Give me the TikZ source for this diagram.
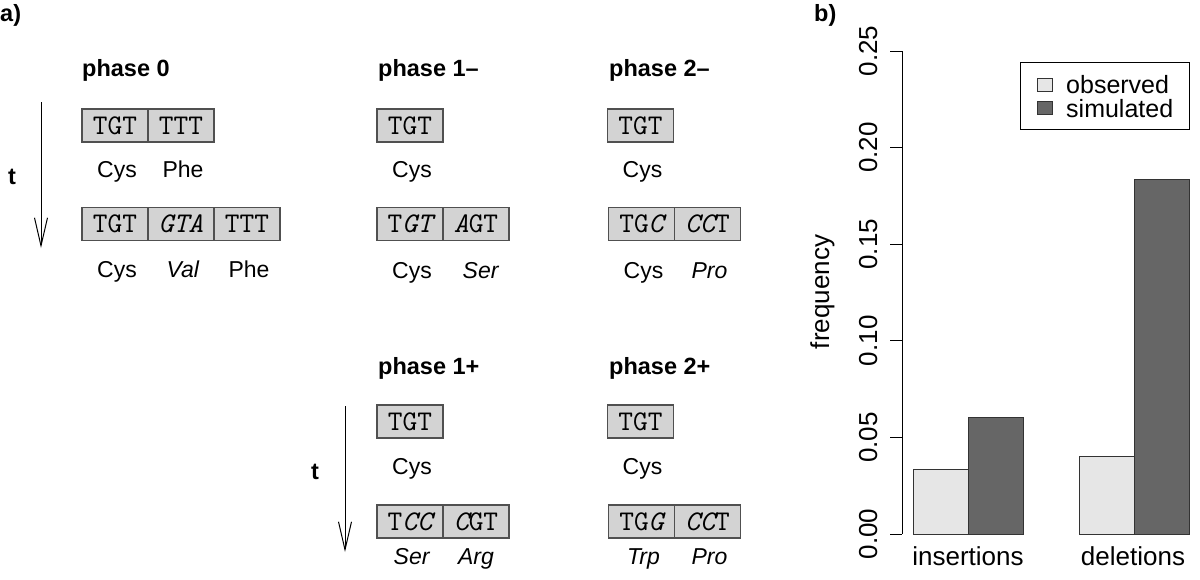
\documentclass[tikz,border=0pt]{standalone}
\usepackage{fontspec}
\setmainfont{Liberation Sans}
\usepackage{tikz}
\usetikzlibrary{positioning}
\usetikzlibrary{arrows.meta}
\definecolor{cellgray}{HTML}{D3D3D3}
\definecolor{edgegray}{HTML}{505050}
\definecolor{obsgray}{HTML}{E6E6E6}
\definecolor{simgray}{HTML}{666666}
\tikzstyle{cell} = [rectangle, draw=edgegray, line width=1.1pt, fill=cellgray,
minimum width=66pt, minimum height=33pt, inner sep=0pt, outer sep=0pt, font=\fontsize{28.5}{30}\selectfont\ttfamily]
\tikzstyle{aa} = [inner sep=0pt, text height=16.5pt, text depth=5pt, font=\fontsize{23}{27}\selectfont]
\tikzstyle{phase} = [inner sep=0pt, font=\fontsize{23.5}{28}\selectfont\bfseries]
\tikzstyle{tline} = [draw, line width=1pt, -{Straight Barb[length=28pt,width=13pt]}]
\tikzstyle{axlab} = [inner sep=0pt, font=\fontsize{26}{30}\selectfont]
\tikzstyle{legtext} = [inner sep=0pt, anchor=base west, text height=17pt, text depth=0pt, font=\fontsize{25}{28}\selectfont]
\tikzstyle{barbox} = [draw=black!80, line width=1pt]
\newcommand{\mut}[1]{{\itshape #1}}

\begin{document}
\begin{tikzpicture}[x=1pt, y=-1pt]
\useasboundingbox (0,0) rectangle (1200,579);
    % panel a
\node [phase, anchor=north west] (pa) at (0,4) {a)};
\node [phase, anchor=base west] (ph0) at (82,76) {phase 0};
\node [phase, anchor=base west] (ph1m) at (378,76) {phase 1–};
\node [phase, anchor=base west] (ph2m) at (609,76) {phase 2–};
\node [phase, anchor=base west] (ph1p) at (378,374) {phase 1+};
\node [phase, anchor=base west] (ph2p) at (609,374) {phase 2+};

% phase 0
\node [cell] (c0a) at (115,125.5) {TGT};
\node [cell, right=0pt of c0a] (c0b) {TTT};
\node [aa, below=19pt of c0a, xshift=2pt] (l0a) {Cys};
\node [aa, below=19pt of c0b, xshift=2pt] (l0b) {Phe};
\node [cell] (d0a) at (115,224) {TGT};
\node [cell, right=0pt of d0a] (d0b) {\mut{GTA}};
\node [cell, right=0pt of d0b] (d0c) {TTT};
\node [aa, below=20pt of d0a, xshift=2pt] (m0a) {Cys};
\node [aa, below=20pt of d0b, xshift=2pt] (m0b) {\textit{Val}};
\node [aa, below=20pt of d0c, xshift=2pt] (m0c) {Phe};

% phase 1-
\node [cell] (c1a) at (410,125.5) {TGT};
\node [aa, below=19pt of c1a, xshift=2pt] (l1a) {Cys};
\node [cell] (d1a) at (410,224) {T\mut{GT}};
\node [cell, right=0pt of d1a] (d1b) {\mut{A}GT};
\node [aa, below=21pt of d1a, xshift=2pt] (m1a) {Cys};
\node [aa, below=21pt of d1b, xshift=5pt] (m1b) {\textit{Ser}};

% phase 2-
\node [cell] (c2a) at (640.5,125.5) {TGT};
\node [aa, below=19pt of c2a, xshift=2pt] (l2a) {Cys};
\node [cell] (d2a) at (641.5,224) {TG\mut{C}};
\node [cell, right=0pt of d2a] (d2b) {\mut{CC}T};
\node [aa, below=21pt of d2a, xshift=2pt] (m2a) {Cys};
\node [aa, below=21pt of d2b, xshift=2pt] (m2b) {\textit{Pro}};

% phase 1+
\node [cell] (c3a) at (410,421.5) {TGT};
\node [aa, below=20pt of c3a, xshift=2pt] (l3a) {Cys};
\node [cell] (d3a) at (410,521.5) {T\mut{CC}};
\node [cell, right=0pt of d3a] (d3b) {\mut{C}GT};
\node [aa, below=10pt of d3a, xshift=2pt] (m3a) {\textit{Ser}};
\node [aa, below=10pt of d3b, xshift=0pt] (m3b) {\textit{Arg}};

% phase 2+
\node [cell] (c4a) at (640.5,421.5) {TGT};
\node [aa, below=20pt of c4a, xshift=2pt] (l4a) {Cys};
\node [cell] (d4a) at (641.5,521.5) {TG\mut{G}};
\node [cell, right=0pt of d4a] (d4b) {\mut{CC}T};
\node [aa, below=10pt of d4a, xshift=2pt] (m4a) {\textit{Trp}};
\node [aa, below=10pt of d4b, xshift=2pt] (m4b) {\textit{Pro}};

% time arrows
\node [phase] (t0) at (12,177) {t};
\node [phase] (t1) at (315,472) {t};
\coordinate (t0s) at (41,102);
\coordinate (t0e) at (41,248);
\coordinate (t1s) at (345,406);
\coordinate (t1e) at (345,552);
\path [tline] (t0s) -- (t0e);
\path [tline] (t1s) -- (t1e);

% panel b
\node [phase, anchor=north west] (pb) at (814,4) {b)};
\draw [line width=1pt] (902,51) -- (902,534);
\foreach \v/\lab in {0/0.00,1/0.05,2/0.10,3/0.15,4/0.20,5/0.25} {
  \draw [line width=1pt] (890,{534-96.6*\v}) -- (902,{534-96.6*\v});
  \node [axlab, rotate=90, anchor=base] at (877,{534-96.6*\v}) {\lab};
}
\node [axlab, rotate=90, anchor=base] (ylab) at (829,292) {frequency};

% bars
\draw [barbox, fill=obsgray] (913,534) rectangle (968,469);
\draw [barbox, fill=simgray] (968,534) rectangle (1023,417);
\draw [barbox, fill=obsgray] (1079,534) rectangle (1134,456);
\draw [barbox, fill=simgray] (1134,534) rectangle (1189,179);
\node [axlab, anchor=base] (xins) at (968,565) {insertions};
\node [axlab, anchor=base] (xdel) at (1133,565) {deletions};

% legend
\node [draw, line width=1pt, minimum width=169pt, minimum height=67pt, inner sep=0pt] (legend) at (1104.5,95.5) {};
\draw [barbox, fill=obsgray] (1037,78) rectangle (1052,91);
\draw [barbox, fill=simgray] (1037,101) rectangle (1052,114);
\node [legtext] (lobs) at (1066,93) {observed};
\node [legtext] (lsim) at (1066,117) {simulated};

\end{tikzpicture}
\end{document}
